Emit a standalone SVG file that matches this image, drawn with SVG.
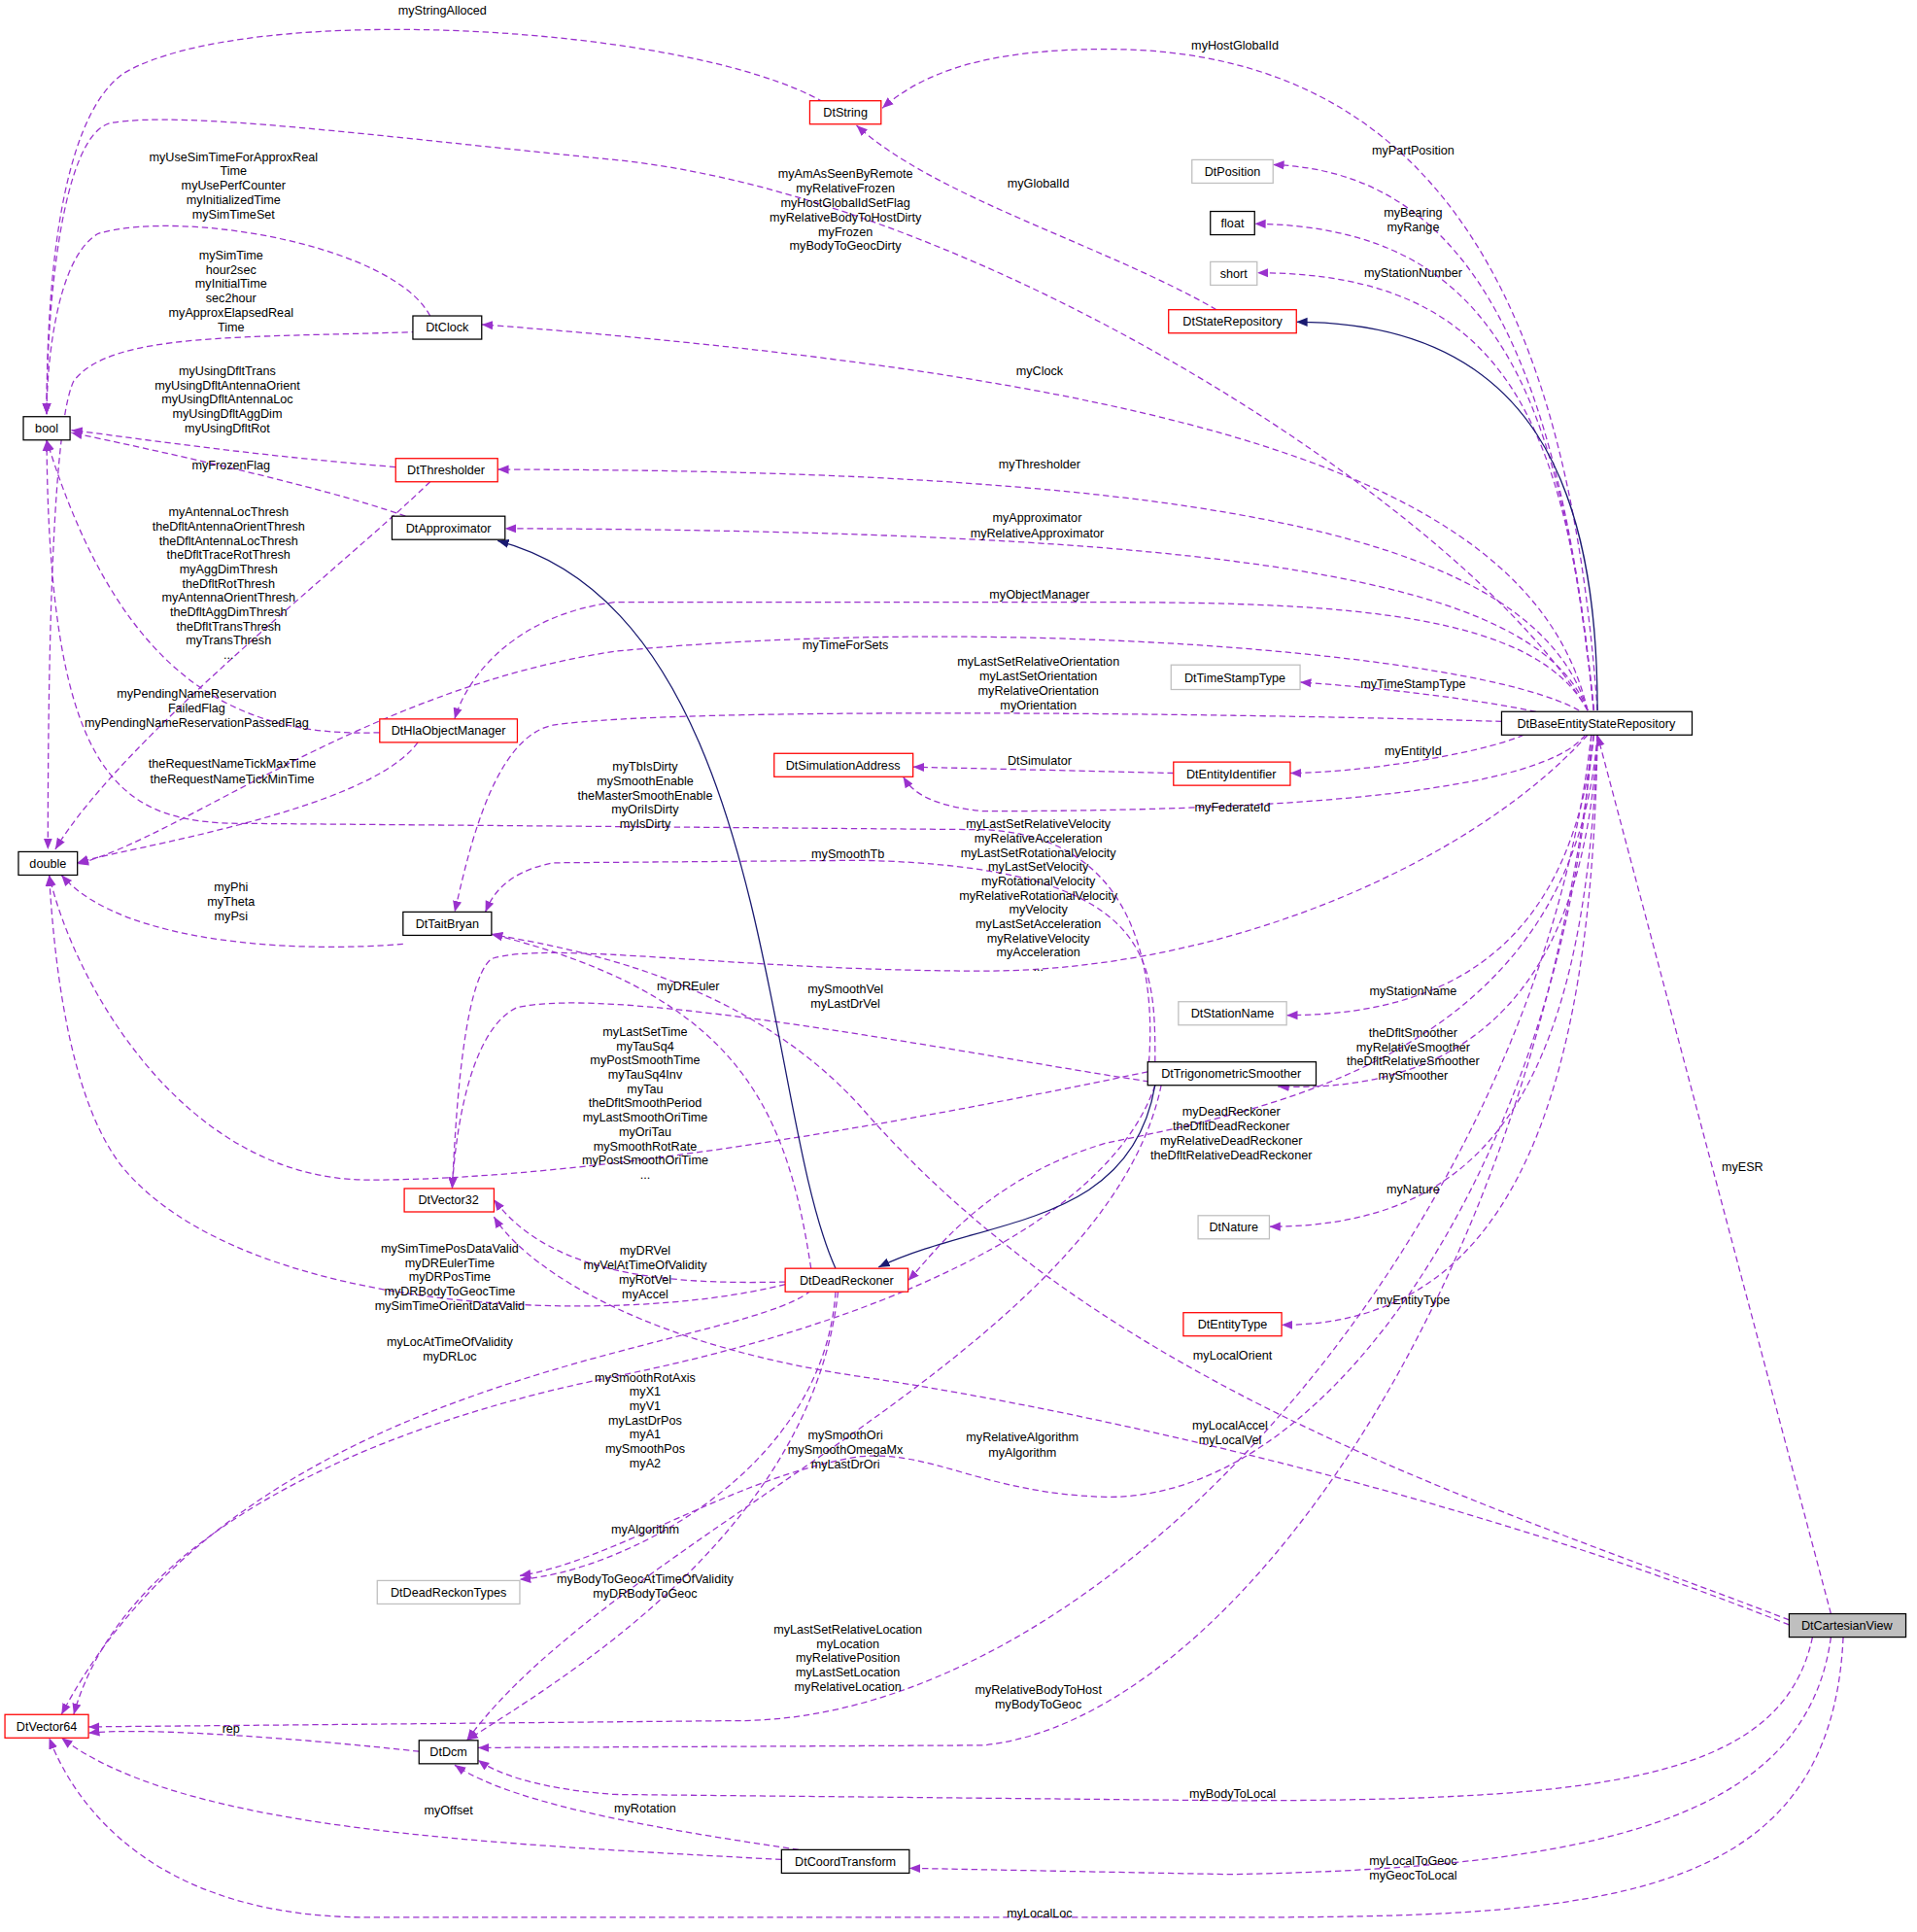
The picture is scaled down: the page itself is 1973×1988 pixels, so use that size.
<svg xmlns="http://www.w3.org/2000/svg" width="1973" height="1988" viewBox="0 0 1973 1988">
<style>
.n rect{stroke-width:1}
.k{fill:#fff;stroke:#000}
.r{fill:#fff;stroke:#f00}
.g{fill:#fff;stroke:#bfbfbf}
text{font-family:"Liberation Sans",Arial,sans-serif;font-size:10px;fill:#000}
.t{text-anchor:middle}
.e path{fill:none;stroke:#9a32cd;stroke-dasharray:5,3;marker-end:url(#mp)}
.e path.i{stroke:#191970;stroke-dasharray:none;marker-end:url(#mn)}
</style>
<defs>
<marker id="mp" viewBox="0 0 10 10" refX="10" refY="5" markerWidth="9" markerHeight="9" orient="auto" markerUnits="userSpaceOnUse"><path d="M0,1L10,5L0,9z" fill="#9a32cd"/></marker>
<marker id="mn" viewBox="0 0 10 10" refX="10" refY="5" markerWidth="9" markerHeight="9" orient="auto" markerUnits="userSpaceOnUse"><path d="M0,1L10,5L0,9z" fill="#191970"/></marker>
</defs>
<rect width="1973" height="1988" fill="#fff"/>
<g transform="scale(1.2647)">
<g id="edges" class="e">
<path d="M670,83 C560,20 200,0 100,60 C45,100 38,250 38,337"/>
<path d="M1300,578 C1280,300 1200,40 900,40 C800,40 750,60 718,88"/>
<path d="M990,252 C900,200 760,160 697,102"/>
<path d="M1297,578 C1270,300 1200,140 1036,134"/>
<path d="M1297,578 C1270,320 1220,185 1021,182"/>
<path d="M1297,578 C1275,350 1230,222 1023,222"/>
<path d="M1292,578 C1200,420 800,160 500,130 C300,110 150,90 90,100 C50,110 38,250 38,337"/>
<path d="M350,257 C320,200 150,170 80,190 C45,210 38,300 38,337"/>
<path d="M340,270 C200,275 90,270 60,310 C40,350 39,600 39,691"/>
<path d="M1292,578 C1250,400 1000,310 392,264"/>
<path d="M322,380 C200,370 100,355 58,350"/>
<path d="M350,392 C280,460 100,600 45,691"/>
<path d="M1292,578 C1250,440 1000,382 405,382"/>
<path d="M330,420 C260,395 120,365 58,352"/>
<path d="M1292,578 C1250,470 1000,432 411,430"/>
<path d="M1292,578 C1250,500 1100,490 900,490 L500,490 C420,500 380,550 370,585"/>
<path d="M309,596 C200,600 100,560 38,358"/>
<path d="M340,604 C300,660 100,690 63,702"/>
<path d="M1285,578 C1200,530 800,500 500,530 C300,560 150,680 63,703"/>
<path d="M1222,587 C1000,580 550,575 450,590 C400,600 380,700 370,742"/>
<path d="M1250,579 C1180,565 1100,558 1058,555"/>
<path d="M1240,598 C1200,615 1100,629 1050,629"/>
<path d="M955,629 L743,624"/>
<path d="M1290,598 C1250,650 1000,660 800,660 C750,655 740,640 735,632"/>
<path d="M935,864 C940,800 930,680 800,675 L200,670 C100,670 40,640 38,358"/>
<path d="M940,864 C940,780 940,705 700,700 L450,702 C410,710 400,730 395,742"/>
<path d="M1292,598 C1200,700 1000,790 800,790 C600,790 450,765 400,780 C375,800 370,930 368,967"/>
<path d="M1456,1318 C1200,1220 900,1130 700,900 C600,790 450,770 400,760"/>
<path d="M1456,1322 C1200,1220 900,1150 700,1120 C500,1090 420,1020 402,990"/>
<path d="M935,880 C800,860 500,800 420,820 C380,840 370,930 368,967"/>
<path d="M934,872 C800,900 500,960 300,960 C150,960 60,800 40,712"/>
<path d="M328,768 C250,775 100,770 50,712"/>
<path d="M1297,598 C1280,750 1200,826 1047,826"/>
<path d="M1300,598 C1290,800 1200,890 1040,884"/>
<path d="M1300,598 C1280,850 1050,900 900,930 C800,960 760,1020 739,1042"/>
<path d="M1300,598 C1290,900 1200,998 1033,998"/>
<path d="M1300,598 C1295,950 1200,1078 1043,1078"/>
<path d="M1490,1313 L1300,598"/>
<path d="M639,1043 C550,1045 450,1040 402,976"/>
<path d="M639,1045 C500,1080 200,1070 100,950 C60,900 45,800 40,712"/>
<path d="M660,1032 C640,900 600,810 400,760"/>
<path d="M660,1050 C600,1100 200,1110 50,1395"/>
<path d="M680,1051 C670,1200 500,1280 423,1285"/>
<path d="M682,1051 C660,1250 450,1370 380,1416"/>
<path d="M940,883 C900,1000 700,1080 500,1120 C300,1160 100,1250 60,1395"/>
<path d="M945,883 C900,1100 500,1250 380,1416"/>
<path d="M1295,598 C1280,900 1100,1220 900,1218 C800,1215 760,1180 700,1185 C600,1200 500,1270 423,1282"/>
<path d="M1295,598 C1250,1000 900,1400 600,1400 L72,1405"/>
<path d="M341,1425 C250,1415 120,1405 72,1410"/>
<path d="M1297,598 C1250,1050 1000,1400 800,1420 L389,1422"/>
<path d="M1475,1332 C1450,1450 1300,1465 1000,1465 L500,1460 C430,1455 400,1440 389,1432"/>
<path d="M650,1505 C550,1490 420,1470 370,1436"/>
<path d="M636,1513 C400,1500 150,1490 50,1414"/>
<path d="M1490,1332 C1470,1480 1300,1520 1000,1525 L740,1520"/>
<path d="M1500,1332 C1490,1550 1300,1560 1000,1560 L300,1560 C100,1560 50,1440 40,1414"/>
<path class="i" d="M1300,578 C1300,400 1250,262 1055,262"/>
<path class="i" d="M680,1032 C620,900 630,500 405,440"/>
<path class="i" d="M940,883 C920,1000 800,990 715,1031"/>
</g>
<g id="labels" class="t">
<text x="360" y="12">myStringAlloced</text>
<text x="1005" y="40">myHostGlobalId</text>
<text x="845" y="153">myGlobalId</text>
<text x="1150" y="126">myPartPosition</text>
<text x="1150" y="176">myBearing<tspan x="1150" dy="12">myRange</tspan></text>
<text x="1150" y="225">myStationNumber</text>
<text x="688" y="145">myAmAsSeenByRemote<tspan x="688" dy="11.7">myRelativeFrozen</tspan><tspan x="688" dy="11.7">myHostGlobalIdSetFlag</tspan><tspan x="688" dy="11.7">myRelativeBodyToHostDirty</tspan><tspan x="688" dy="11.7">myFrozen</tspan><tspan x="688" dy="11.7">myBodyToGeocDirty</tspan></text>
<text x="190" y="131">myUseSimTimeForApproxReal<tspan x="190" dy="11.7">Time</tspan><tspan x="190" dy="11.7">myUsePerfCounter</tspan><tspan x="190" dy="11.7">myInitializedTime</tspan><tspan x="190" dy="11.7">mySimTimeSet</tspan></text>
<text x="188" y="211">mySimTime<tspan x="188" dy="11.7">hour2sec</tspan><tspan x="188" dy="11.7">myInitialTime</tspan><tspan x="188" dy="11.7">sec2hour</tspan><tspan x="188" dy="11.7">myApproxElapsedReal</tspan><tspan x="188" dy="11.7">Time</tspan></text>
<text x="846" y="305">myClock</text>
<text x="185" y="305">myUsingDfltTrans<tspan x="185" dy="11.7">myUsingDfltAntennaOrient</tspan><tspan x="185" dy="11.7">myUsingDfltAntennaLoc</tspan><tspan x="185" dy="11.7">myUsingDfltAggDim</tspan><tspan x="185" dy="11.7">myUsingDfltRot</tspan></text>
<text x="188" y="382">myFrozenFlag</text>
<text x="846" y="381">myThresholder</text>
<text x="186" y="420">myAntennaLocThresh<tspan x="186" dy="11.6">theDfltAntennaOrientThresh</tspan><tspan x="186" dy="11.6">theDfltAntennaLocThresh</tspan><tspan x="186" dy="11.6">theDfltTraceRotThresh</tspan><tspan x="186" dy="11.6">myAggDimThresh</tspan><tspan x="186" dy="11.6">theDfltRotThresh</tspan><tspan x="186" dy="11.6">myAntennaOrientThresh</tspan><tspan x="186" dy="11.6">theDfltAggDimThresh</tspan><tspan x="186" dy="11.6">theDfltTransThresh</tspan><tspan x="186" dy="11.6">myTransThresh</tspan><tspan x="186" dy="11.6">...</tspan></text>
<text x="844" y="425">myApproximator<tspan x="844" dy="12">myRelativeApproximator</tspan></text>
<text x="846" y="487">myObjectManager</text>
<text x="688" y="528">myTimeForSets</text>
<text x="845" y="542">myLastSetRelativeOrientation<tspan x="845" dy="11.7">myLastSetOrientation</tspan><tspan x="845" dy="11.7">myRelativeOrientation</tspan><tspan x="845" dy="11.7">myOrientation</tspan></text>
<text x="160" y="568">myPendingNameReservation<tspan x="160" dy="11.7">FailedFlag</tspan><tspan x="160" dy="11.7">myPendingNameReservationPassedFlag</tspan></text>
<text x="1150" y="560">myTimeStampType</text>
<text x="1150" y="614">myEntityId</text>
<text x="846" y="622">DtSimulator</text>
<text x="189" y="625">theRequestNameTickMaxTime<tspan x="189" dy="12">theRequestNameTickMinTime</tspan></text>
<text x="525" y="627">myTbIsDirty<tspan x="525" dy="11.7">mySmoothEnable</tspan><tspan x="525" dy="11.7">theMasterSmoothEnable</tspan><tspan x="525" dy="11.7">myOriIsDirty</tspan><tspan x="525" dy="11.7">myIsDirty</tspan></text>
<text x="1003" y="660">myFederateId</text>
<text x="845" y="674">myLastSetRelativeVelocity<tspan x="845" dy="11.6">myRelativeAcceleration</tspan><tspan x="845" dy="11.6">myLastSetRotationalVelocity</tspan><tspan x="845" dy="11.6">myLastSetVelocity</tspan><tspan x="845" dy="11.6">myRotationalVelocity</tspan><tspan x="845" dy="11.6">myRelativeRotationalVelocity</tspan><tspan x="845" dy="11.6">myVelocity</tspan><tspan x="845" dy="11.6">myLastSetAcceleration</tspan><tspan x="845" dy="11.6">myRelativeVelocity</tspan><tspan x="845" dy="11.6">myAcceleration</tspan><tspan x="845" dy="11.6">...</tspan></text>
<text x="690" y="698">mySmoothTb</text>
<text x="188" y="725">myPhi<tspan x="188" dy="12">myTheta</tspan><tspan x="188" dy="12">myPsi</tspan></text>
<text x="560" y="806">myDREuler</text>
<text x="688" y="808">mySmoothVel<tspan x="688" dy="12">myLastDrVel</tspan></text>
<text x="1150" y="810">myStationName</text>
<text x="1150" y="844">theDfltSmoother<tspan x="1150" dy="11.5">myRelativeSmoother</tspan><tspan x="1150" dy="11.5">theDfltRelativeSmoother</tspan><tspan x="1150" dy="11.5">mySmoother</tspan></text>
<text x="525" y="843">myLastSetTime<tspan x="525" dy="11.6">myTauSq4</tspan><tspan x="525" dy="11.6">myPostSmoothTime</tspan><tspan x="525" dy="11.6">myTauSq4Inv</tspan><tspan x="525" dy="11.6">myTau</tspan><tspan x="525" dy="11.6">theDfltSmoothPeriod</tspan><tspan x="525" dy="11.6">myLastSmoothOriTime</tspan><tspan x="525" dy="11.6">myOriTau</tspan><tspan x="525" dy="11.6">mySmoothRotRate</tspan><tspan x="525" dy="11.6">myPostSmoothOriTime</tspan><tspan x="525" dy="11.6">...</tspan></text>
<text x="1002" y="908">myDeadReckoner<tspan x="1002" dy="11.7">theDfltDeadReckoner</tspan><tspan x="1002" dy="11.7">myRelativeDeadReckoner</tspan><tspan x="1002" dy="11.7">theDfltRelativeDeadReckoner</tspan></text>
<text x="1418" y="953">myESR</text>
<text x="1150" y="971">myNature</text>
<text x="525" y="1021">myDRVel<tspan x="525" dy="11.7">myVelAtTimeOfValidity</tspan><tspan x="525" dy="11.7">myRotVel</tspan><tspan x="525" dy="11.7">myAccel</tspan></text>
<text x="366" y="1019">mySimTimePosDataValid<tspan x="366" dy="11.7">myDREulerTime</tspan><tspan x="366" dy="11.7">myDRPosTime</tspan><tspan x="366" dy="11.7">myDRBodyToGeocTime</tspan><tspan x="366" dy="11.7">mySimTimeOrientDataValid</tspan></text>
<text x="1150" y="1061">myEntityType</text>
<text x="366" y="1095">myLocAtTimeOfValidity<tspan x="366" dy="12">myDRLoc</tspan></text>
<text x="1003" y="1106">myLocalOrient</text>
<text x="525" y="1124">mySmoothRotAxis<tspan x="525" dy="11.6">myX1</tspan><tspan x="525" dy="11.6">myV1</tspan><tspan x="525" dy="11.6">myLastDrPos</tspan><tspan x="525" dy="11.6">myA1</tspan><tspan x="525" dy="11.6">mySmoothPos</tspan><tspan x="525" dy="11.6">myA2</tspan></text>
<text x="1001" y="1163">myLocalAccel<tspan x="1001" dy="12">myLocalVel</tspan></text>
<text x="832" y="1173">myRelativeAlgorithm<tspan x="832" dy="12">myAlgorithm</tspan></text>
<text x="688" y="1171">mySmoothOri<tspan x="688" dy="12">mySmoothOmegaMx</tspan><tspan x="688" dy="12">myLastDrOri</tspan></text>
<text x="525" y="1248">myAlgorithm</text>
<text x="525" y="1288">myBodyToGeocAtTimeOfValidity<tspan x="525" dy="12">myDRBodyToGeoc</tspan></text>
<text x="690" y="1329">myLastSetRelativeLocation<tspan x="690" dy="11.7">myLocation</tspan><tspan x="690" dy="11.7">myRelativePosition</tspan><tspan x="690" dy="11.7">myLastSetLocation</tspan><tspan x="690" dy="11.7">myRelativeLocation</tspan></text>
<text x="845" y="1378">myRelativeBodyToHost<tspan x="845" dy="12">myBodyToGeoc</tspan></text>
<text x="188" y="1410">rep</text>
<text x="1003" y="1463">myBodyToLocal</text>
<text x="365" y="1476">myOffset</text>
<text x="525" y="1475">myRotation</text>
<text x="1150" y="1517">myLocalToGeoc<tspan x="1150" dy="12">myGeocToLocal</tspan></text>
<text x="846" y="1560">myLocalLoc</text>
</g>
<g id="DtString" class="n"><rect class="r" x="659" y="82" width="58" height="19"/><text x="688" y="95" class="t">DtString</text></g>
<g id="DtPosition" class="n"><rect class="g" x="970" y="130" width="66" height="19"/><text x="1003" y="143" class="t">DtPosition</text></g>
<g id="float" class="n"><rect class="k" x="985" y="172" width="36" height="19"/><text x="1003" y="185" class="t">float</text></g>
<g id="short" class="n"><rect class="g" x="985" y="213" width="38" height="19"/><text x="1004" y="226" class="t">short</text></g>
<g id="DtStateRepository" class="n"><rect class="r" x="951" y="252" width="104" height="19"/><text x="1003" y="265" class="t">DtStateRepository</text></g>
<g id="bool" class="n"><rect class="k" x="19" y="339" width="38" height="19"/><text x="38" y="352" class="t">bool</text></g>
<g id="DtClock" class="n"><rect class="k" x="336" y="257" width="56" height="19"/><text x="364" y="270" class="t">DtClock</text></g>
<g id="DtThresholder" class="n"><rect class="r" x="322" y="373" width="83" height="19"/><text x="363" y="386" class="t">DtThresholder</text></g>
<g id="DtApproximator" class="n"><rect class="k" x="319" y="420" width="92" height="19"/><text x="365" y="433" class="t">DtApproximator</text></g>
<g id="DtTimeStampType" class="n"><rect class="g" x="953" y="541" width="105" height="20"/><text x="1005" y="555" class="t">DtTimeStampType</text></g>
<g id="DtBaseEntityStateRepository" class="n"><rect class="k" x="1222" y="579" width="155" height="19"/><text x="1299" y="592" class="t">DtBaseEntityStateRepository</text></g>
<g id="DtSimulationAddress" class="n"><rect class="r" x="630" y="613" width="113" height="19"/><text x="686" y="626" class="t">DtSimulationAddress</text></g>
<g id="DtEntityIdentifier" class="n"><rect class="r" x="955" y="620" width="95" height="19"/><text x="1002" y="633" class="t">DtEntityIdentifier</text></g>
<g id="DtHlaObjectManager" class="n"><rect class="r" x="309" y="585" width="112" height="19"/><text x="365" y="598" class="t">DtHlaObjectManager</text></g>
<g id="double" class="n"><rect class="k" x="15" y="693" width="48" height="19"/><text x="39" y="706" class="t">double</text></g>
<g id="DtTaitBryan" class="n"><rect class="k" x="328" y="742" width="72" height="19"/><text x="364" y="755" class="t">DtTaitBryan</text></g>
<g id="DtStationName" class="n"><rect class="g" x="959" y="815" width="88" height="19"/><text x="1003" y="828" class="t">DtStationName</text></g>
<g id="DtTrigonometricSmoother" class="n"><rect class="k" x="934" y="864" width="137" height="19"/><text x="1002" y="877" class="t">DtTrigonometricSmoother</text></g>
<g id="DtVector32" class="n"><rect class="r" x="329" y="967" width="73" height="19"/><text x="365" y="980" class="t">DtVector32</text></g>
<g id="DtNature" class="n"><rect class="g" x="975" y="989" width="58" height="19"/><text x="1004" y="1002" class="t">DtNature</text></g>
<g id="DtDeadReckoner" class="n"><rect class="r" x="639" y="1032" width="100" height="19"/><text x="689" y="1045" class="t">DtDeadReckoner</text></g>
<g id="DtEntityType" class="n"><rect class="r" x="963" y="1068" width="80" height="19"/><text x="1003" y="1081" class="t">DtEntityType</text></g>
<g id="DtDeadReckonTypes" class="n"><rect class="g" x="307" y="1286" width="116" height="19"/><text x="365" y="1299" class="t">DtDeadReckonTypes</text></g>
<g id="DtCartesianView" class="n"><rect x="1456" y="1313" width="95" height="19" fill="#bfbfbf" stroke="#000"/><text x="1503" y="1326" class="t">DtCartesianView</text></g>
<g id="DtVector64" class="n"><rect class="r" x="4" y="1395" width="68" height="19"/><text x="38" y="1408" class="t">DtVector64</text></g>
<g id="DtDcm" class="n"><rect class="k" x="341" y="1416" width="48" height="19"/><text x="365" y="1429" class="t">DtDcm</text></g>
<g id="DtCoordTransform" class="n"><rect class="k" x="636" y="1505" width="104" height="19"/><text x="688" y="1518" class="t">DtCoordTransform</text></g>
</g>
</svg>
